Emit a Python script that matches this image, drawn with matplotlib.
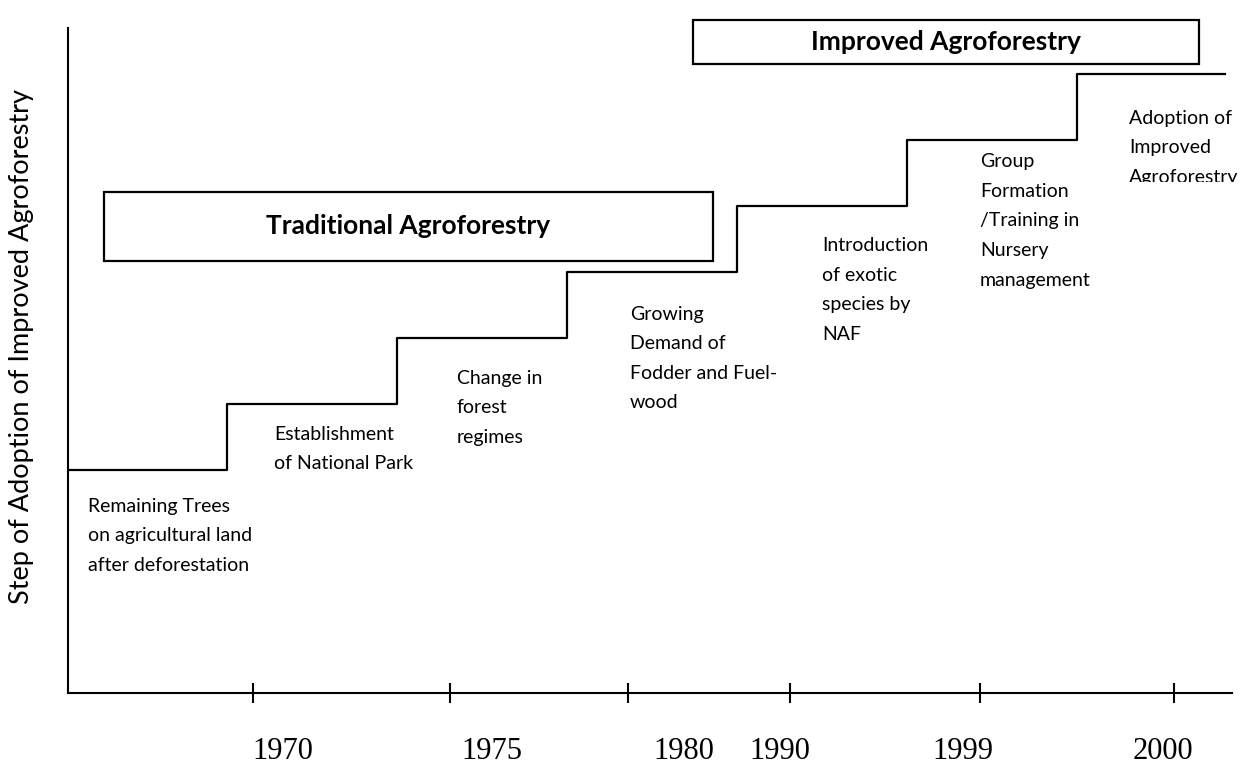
import matplotlib
matplotlib.use("Agg")
import matplotlib.pyplot as plt
from matplotlib.patches import Rectangle
from matplotlib.transforms import Bbox, TransformedBbox

#### data ####
step_labels = [
    "Remaining Trees\non agricultural land\nafter deforestation",
    "Establishment\nof National Park",
    "Change in\nforest\nregimes",
    "Growing\nDemand of\nFodder and Fuel-\nwood",
    "Introduction\nof exotic\nspecies by\nNAF",
    "Group\nFormation\n/Training in\nNursery\nmanagement",
    "Adoption of\nImproved\nAgroforestry",
]
step_start = [0.0, 0.935, 1.935, 2.935, 3.935, 4.935, 5.935]
step_level = [1, 2, 3, 4, 5, 6, 7]
line_end = 6.806

year_ticks = [1.088, 2.247, 3.294, 4.247, 5.365, 6.506]
year_label_pos = [1.265, 2.494, 3.624, 4.188, 5.265, 6.441]
years = ["1970", "1975", "1980", "1990", "1999", "2000"]

phases = ["Traditional Agroforestry", "Improved Agroforestry"]
phase_x = [(0.212, 3.794), (3.676, 6.653)]
phase_y = [(4.167, 5.212), (7.152, 7.818)]

#### layout (offset of each label from its step corner, data units) ####
lab_dx = [0.118, 0.276, 0.353, 0.371, 0.5, 0.429, 0.306]
lab_dy = [0.42, 0.33, 0.48, 0.51, 0.47, 0.20, 0.54]

sans = "Lato"

fig = plt.figure(figsize=(12.58, 7.65), dpi=100)
ax = fig.add_axes([68 / 1258, 72 / 765, 1164 / 1258, 665 / 765])
ax.set_xlim(0, 1164 / 170)
ax.set_ylim(-2.379, 7.697)

# escalier
xs = []
ys = []
for s, l in zip(step_start, step_level):
    xs += [s]
    ys += [l]
xs.append(line_end)
ys.append(step_level[-1])
ax.step(xs, ys, where="post", color="black", linewidth=1.6)

# textes des marches
for i, txt in enumerate(step_labels):
    t = ax.text(step_start[i] + lab_dx[i], step_level[i] - lab_dy[i], txt,
                fontsize=14, family=sans, ha="left", va="top",
                linespacing=1.9)
    if i == len(step_labels) - 1:
        # la derniere boite de texte est coupee en bas
        t.set_clip_box(TransformedBbox(Bbox([[5.9, 5.36], [6.9, 8.0]]), ax.transData))
        t.set_clip_on(True)

# boites des phases
for name, (x0, x1), (y0, y1) in zip(phases, phase_x, phase_y):
    ax.add_patch(Rectangle((x0, y0), x1 - x0, y1 - y0, fill=False,
                           edgecolor="black", linewidth=1.6, clip_on=False))
    ax.text((x0 + x1) / 2, (y0 + y1) / 2, name, fontsize=19, fontweight="bold",
            family=sans, ha="center", va="center", clip_on=False)

# axes
for sp in ["top", "right"]:
    ax.spines[sp].set_visible(False)
ax.spines["left"].set_linewidth(1.5)
ax.spines["bottom"].set_linewidth(1.5)
ax.set_yticks([])
ax.set_xticks(year_label_pos)
ax.set_xticklabels(years, fontsize=22, family="Liberation Serif")
ax.tick_params(axis="x", which="major", length=0, pad=32)
ax.set_xticks(year_ticks, minor=True)
ax.tick_params(axis="x", which="minor", direction="inout", length=14, width=1.5)

fig.text(22 / 1258, 1 - 347 / 765, "Step of Adoption of Improved Agroforestry",
         rotation=90, fontsize=19.5, family=sans, ha="center", va="center")

fig.savefig("out.png", dpi=100)
